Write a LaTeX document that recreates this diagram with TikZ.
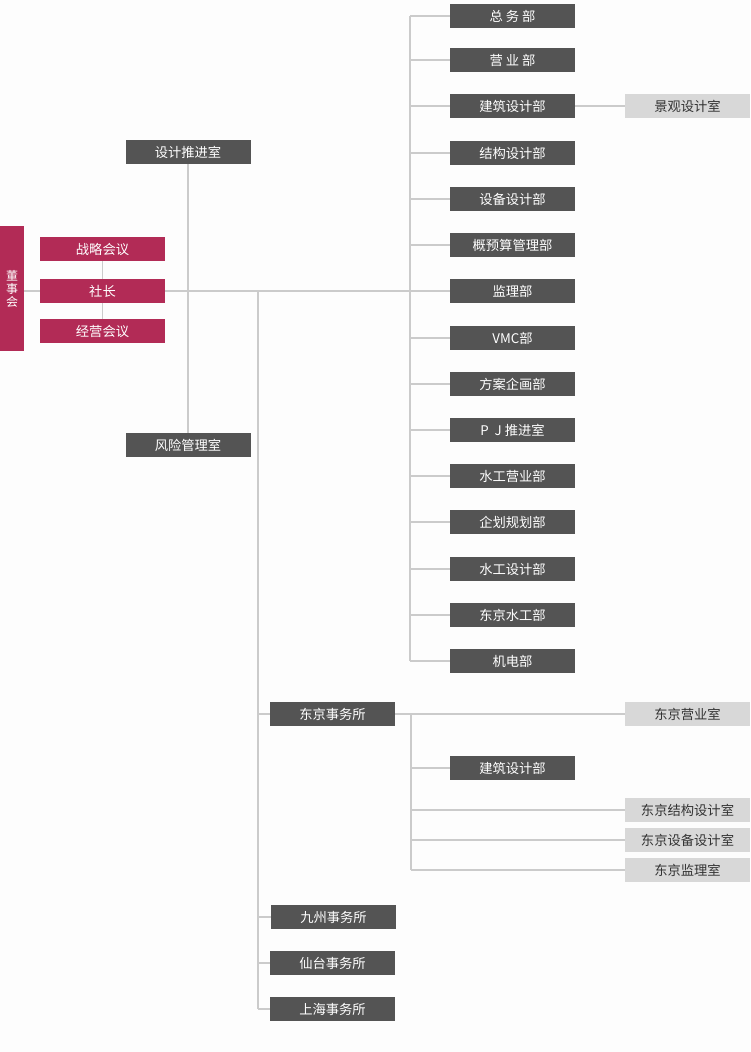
\documentclass[tikz,border=0pt]{standalone}
\usepackage{fontspec}
\newfontfamily\cjk{Noto Sans CJK SC}
\definecolor{crim}{HTML}{B22B56}
\definecolor{dk}{HTML}{545454}
\definecolor{lt}{HTML}{D8D8D8}
\definecolor{ln}{HTML}{CBCBCB}
\definecolor{bg}{HTML}{FDFDFD}
\begin{document}
\begin{tikzpicture}[x=1pt,y=-1pt,
  base/.style={minimum width=125pt,minimum height=24pt,inner sep=0pt,outer sep=0pt,font=\cjk\fontsize{13.3}{14}\selectfont},
  dbox/.style={base,fill=dk,text=white},
  rbox/.style={base,fill=crim,text=white},
  lbox/.style={base,fill=lt,text=black!80},
  conn/.style={draw=ln,line width=1.6pt}]
\fill[bg] (0,0) rectangle (750,1052);
\useasboundingbox (0,0) rectangle (750,1052);
% left group
\node[fill=crim,text=white,minimum width=24pt,minimum height=125pt,inner sep=0pt,outer sep=0pt,font=\cjk\fontsize{12}{13}\selectfont,align=center] (board) at (12,288.5) {董\\事\\会};
\node[rbox] (zl) at (102.5,249) {战略会议};
\node[rbox] (sz) at (102.5,291) {社长};
\node[rbox] (jy) at (102.5,331) {经营会议};
\node[dbox] (sj) at (188,152) {设计推进室};
\node[dbox] (fx) at (188,445) {风险管理室};
% right column
\node[dbox] (r1) at (512.5,16) {总\ 务\ 部};
\node[dbox] (r2) at (512.5,60) {营\ 业\ 部};
\node[dbox] (r3) at (512.5,106) {建筑设计部};
\node[dbox] (r4) at (512.5,153) {结构设计部};
\node[dbox] (r5) at (512.5,199) {设备设计部};
\node[dbox] (r6) at (512.5,245) {概预算管理部};
\node[dbox] (r7) at (512.5,291) {监理部};
\node[dbox] (r8) at (512.5,338) {VMC部};
\node[dbox] (r9) at (512.5,384) {方案企画部};
\node[dbox] (r10) at (512.5,430) {P\ \ J\ 推进室};
\node[dbox] (r11) at (512.5,476) {水工营业部};
\node[dbox] (r12) at (512.5,522) {企划规划部};
\node[dbox] (r13) at (512.5,569) {水工设计部};
\node[dbox] (r14) at (512.5,615) {东京水工部};
\node[dbox] (r15) at (512.5,661) {机电部};
\node[lbox] (jg) at (687.5,106) {景观设计室};
% bottom
\node[dbox] (tk) at (332.5,714) {东京事务所};
\node[lbox] (tk1) at (687.5,714) {东京营业室};
\node[dbox] (tk2) at (512.5,768) {建筑设计部};
\node[lbox] (tk3) at (687.5,810) {东京结构设计室};
\node[lbox] (tk4) at (687.5,840) {东京设备设计室};
\node[lbox] (tk5) at (687.5,870) {东京监理室};
\node[dbox] (kx) at (333.5,917) {九州事务所};
\node[dbox] (sd) at (332.5,963) {仙台事务所};
\node[dbox] (sh) at (332.5,1009) {上海事务所};
% trunk coordinates
\coordinate (tx) at (410,0);
\coordinate (lx) at (258,0);
\coordinate (bx) at (411,0);
% connectors
\draw[conn] (board.east |- sz) -- (sz.west);
\draw[conn] (zl.south) -- (sz.north);
\draw[conn] (sz.south) -- (jy.north);
\draw[conn] (sj.south) -- (fx.north);
\draw[conn] (sz.east) -- (r7.west);
\draw[conn] (r1.west -| tx) -- (r15.west -| tx);
\foreach \n in {r1,r2,r3,r4,r5,r6,r8,r9,r10,r11,r12,r13,r14,r15}
  \draw[conn] (\n.west -| tx) -- (\n.west);
\draw[conn] (r3.east) -- (jg.west);
\draw[conn] (sz -| lx) -- (sh.west -| lx);
\foreach \n in {tk,kx,sd,sh}
  \draw[conn] (\n.west -| lx) -- (\n.west);
\draw[conn] (tk.east) -- (tk1.west);
\draw[conn] (tk.east -| bx) -- (tk5.west -| bx);
\foreach \n in {tk2,tk3,tk4,tk5}
  \draw[conn] (\n.west -| bx) -- (\n.west);
\end{tikzpicture}
\end{document}
